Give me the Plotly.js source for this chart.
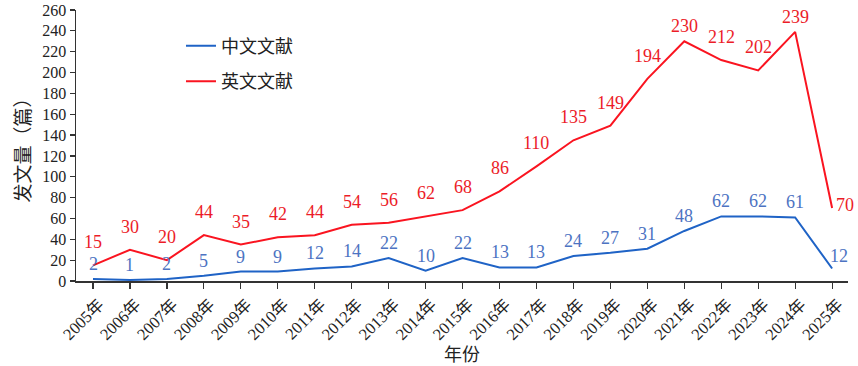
<!DOCTYPE html>
<html>
<head>
<meta charset="utf-8">
<script src="https://cdn.plot.ly/plotly-3.0.1.min.js"></script>
<style>
html,body{margin:0;padding:0;background:#fff;}
#chart{width:858px;height:366px;}
</style>
</head>
<body>
<div id="chart"></div>
<script>
const years = ["2005年","2006年","2007年","2008年","2009年","2010年","2011年","2012年","2013年","2014年","2015年","2016年","2017年","2018年","2019年","2020年","2021年","2022年","2023年","2024年","2025年"];
const chineseCounts = [2,1,2,5,9,9,12,14,22,10,22,13,13,24,27,31,48,62,62,61,12];
const englishCounts = [15,30,20,44,35,42,44,54,56,62,68,86,110,135,149,194,230,212,202,239,70];
const seriesNames = ["中文文献","英文文献"];

const FONT = '"Liberation Serif", "Times New Roman", "Noto Sans CJK SC", serif';
const CJK = '"Noto Sans CJK SC", sans-serif';
const BLUE_LINE = '#1f63c6';
const BLUE_TEXT = '#4d73c2';
const RED_LINE = '#fa1420';
const RED_TEXT = '#ec1c28';

const traces = [
  {x: years, y: chineseCounts, name: seriesNames[0], type: 'scatter', mode: 'lines',
   line: {color: BLUE_LINE, width: 2}, legendgroup: 'a'},
  {x: years, y: englishCounts, name: seriesNames[1], type: 'scatter', mode: 'lines',
   line: {color: RED_LINE, width: 2}, legendgroup: 'b'}
];

const annotations = [];
const last = years.length - 1;
chineseCounts.forEach((v, i) => {
  annotations.push({x: years[i], y: v, text: String(v), showarrow: false,
    xref: 'x', yref: 'y', xanchor: 'center', yanchor: 'middle',
    xshift: i === last ? 7 : 0, yshift: i === last ? 12 : 15,
    font: {family: FONT, size: 18, color: BLUE_TEXT}});
});
englishCounts.forEach((v, i) => {
  const nearTop = v > 225;
  annotations.push({x: years[i], y: v, text: String(v), showarrow: false,
    xref: 'x', yref: 'y', xanchor: i === last ? 'left' : 'center', yanchor: 'middle',
    xshift: i === last ? 2 : 0, yshift: i === last ? 3 : (nearTop ? 15 : 23),
    font: {family: FONT, size: 18, color: RED_TEXT}});
});

const layout = {
  width: 858, height: 366,
  margin: {l: 76, r: 10, t: 10, b: 85},
  paper_bgcolor: '#fff', plot_bgcolor: '#fff',
  font: {family: FONT, size: 16, color: '#222'},
  showlegend: true,
  legend: {x: 0.136, y: 0.935, xanchor: 'left', yanchor: 'top',
    font: {family: CJK, size: 18, color: '#222'},
    bgcolor: 'rgba(0,0,0,0)', traceorder: 'grouped', tracegroupgap: 9},
  xaxis: {type: 'category', range: [-0.46, 20.43], showline: true, linecolor: '#333', linewidth: 1.5,
    ticks: 'outside', ticklen: 6, tickcolor: '#333', tickwidth: 1.2, tickangle: -45,
    ticklabelshift: 6,
    showgrid: false, zeroline: false, tickfont: {family: FONT, size: 16.5, color: '#222'},
    title: {text: '年份', font: {family: CJK, size: 18, color: '#222'}, standoff: 6},
    automargin: false},
  yaxis: {range: [0, 260], dtick: 20, showline: true, linecolor: '#333', linewidth: 1.5,
    ticks: 'outside', ticklen: 5, tickcolor: '#333', tickwidth: 1.2,
    showgrid: false, zeroline: false, tickfont: {family: FONT, size: 16, color: '#222'},
    title: {text: '发文量（篇）', font: {family: CJK, size: 19, color: '#222'}, standoff: 6},
    automargin: false},
  annotations: annotations
};

Plotly.newPlot('chart', traces, layout, {staticPlot: true, displayModeBar: false});
</script>
</body>
</html>
